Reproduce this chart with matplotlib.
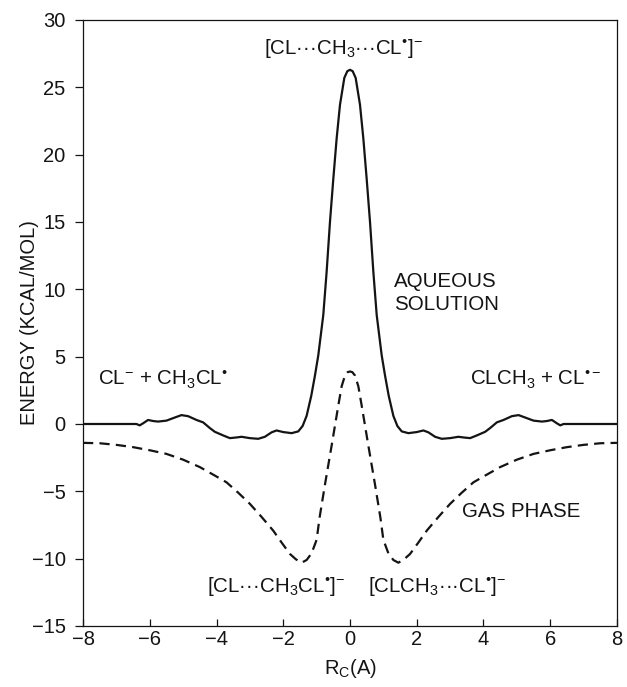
import matplotlib
matplotlib.use("Agg")
import matplotlib.pyplot as plt

plt.rcParams["font.family"] = ["Liberation Sans", "DejaVu Sans"]
plt.rcParams["mathtext.fontset"] = "custom"
plt.rcParams["mathtext.rm"] = "Liberation Sans"
plt.rcParams["mathtext.it"] = "Liberation Sans:italic"
plt.rcParams["mathtext.bf"] = "Liberation Sans:bold"

# Aqueous-solution free-energy profile (kcal/mol) vs reaction coordinate R_C
aq_x = [-8.0, -6.4, -6.3, -6.2, -6.05, -5.9, -5.75, -5.5, -5.25, -5.05, -4.85,
        -4.6, -4.4, -4.2, -4.05, -3.8, -3.6, -3.4, -3.25, -3.0, -2.75, -2.55,
        -2.35, -2.2, -2.0, -1.75, -1.55, -1.42, -1.3, -1.16, -1.05, -0.95,
        -0.8, -0.7, -0.6, -0.5, -0.4, -0.3, -0.17, -0.08, 0.0,
        0.08, 0.17, 0.3, 0.4, 0.5, 0.6, 0.7, 0.8, 0.95, 1.05, 1.16, 1.3,
        1.42, 1.55, 1.75, 2.0, 2.2, 2.35, 2.55, 2.75, 3.0, 3.25, 3.4, 3.6,
        3.8, 4.05, 4.2, 4.4, 4.6, 4.85, 5.05, 5.25, 5.5, 5.75, 5.9, 6.05,
        6.2, 6.3, 6.4, 8.0]
aq_e = [0.0, 0.0, -0.1, 0.05, 0.3, 0.22, 0.18, 0.25, 0.48, 0.66, 0.58,
        0.3, 0.12, -0.3, -0.58, -0.85, -1.05, -1.0, -0.95, -1.05, -1.1, -0.95,
        -0.62, -0.48, -0.6, -0.68, -0.55, -0.15, 0.6, 2.1, 3.6, 5.1,
        8.1, 11.3, 15.0, 18.2, 21.2, 23.7, 25.7, 26.2, 26.3,
        26.2, 25.7, 23.7, 21.2, 18.2, 15.0, 11.3, 8.1, 5.1, 3.6, 2.1, 0.6,
        -0.15, -0.55, -0.68, -0.6, -0.48, -0.62, -0.95, -1.1, -1.05, -0.95, -1.0, -1.05,
        -0.85, -0.58, -0.3, 0.12, 0.3, 0.58, 0.66, 0.48, 0.25, 0.18, 0.22, 0.3,
        0.05, -0.1, 0.0, 0.0]

# Gas-phase energy profile
gas_x = [-8.0, -7.5, -7.0, -6.5, -6.0, -5.5, -5.0, -4.5, -4.0, -3.7, -3.35,
         -3.0, -2.65, -2.3, -2.05, -1.8, -1.62, -1.45, -1.3, -1.15, -1.0,
         -0.91, -0.75, -0.55, -0.35, -0.25, -0.15, -0.07, 0.0,
         0.07, 0.15, 0.25, 0.35, 0.55, 0.75, 0.91, 1.0, 1.15, 1.3, 1.45, 1.62, 1.8,
         2.05, 2.3, 2.65, 3.0, 3.35, 3.7, 4.0, 4.5, 5.0, 5.5, 6.0, 6.5, 7.0,
         7.5, 8.0]
gas_e = [-1.4, -1.43, -1.55, -1.72, -1.95, -2.22, -2.65, -3.2, -3.9, -4.33, -5.1,
         -5.93, -6.9, -7.92, -8.8, -9.65, -10.05, -10.3, -10.1, -9.6, -8.6,
         -6.93, -4.5, -1.6, 1.37, 2.8, 3.6, 3.85, 3.9,
         3.85, 3.6, 2.8, 1.37, -1.6, -4.5, -6.93, -8.6, -9.6, -10.1, -10.3, -10.05, -9.65,
         -8.8, -7.92, -6.9, -5.93, -5.1, -4.33, -3.9, -3.2, -2.65, -2.22, -1.95, -1.72, -1.55,
         -1.43, -1.4]

x_ticks = [-8, -6, -4, -2, 0, 2, 4, 6, 8]
x_tick_labels = ["\u22128", "\u22126", "\u22124", "\u22122", "0", "2", "4", "6", "8"]
y_ticks = [-15, -10, -5, 0, 5, 10, 15, 20, 25, 30]
y_tick_labels = ["\u221215", "\u221210", "\u22125", "0", "5", "10", "15", "20", "25", "30"]

ink = "#141414"
fs = 14.8

fig = plt.figure(figsize=(6.27, 6.87), dpi=100)
ax = fig.add_axes([0.1324, 0.0888, 0.8516, 0.8821])

ax.plot(aq_x, aq_e, color=ink, lw=1.6, solid_joinstyle="round")
ax.plot(gas_x, gas_e, color=ink, lw=1.6, dashes=[4.6, 2.8])

ax.set_xlim(-8, 8)
ax.set_ylim(-15, 30)
ax.set_xticks(x_ticks)
ax.set_xticklabels(x_tick_labels)
ax.set_yticks(y_ticks)
ax.set_yticklabels(y_tick_labels)
ax.tick_params(axis="x", direction="in", length=5.4, width=0.9, labelsize=14.5,
               pad=3, colors=ink)
ax.tick_params(axis="y", direction="out", length=5.6, width=0.9, labelsize=14.5,
               pad=7, colors=ink)
for s in ax.spines.values():
    s.set_linewidth(0.9)
    s.set_color(ink)

ax.set_xlabel(r"R$\mathregular{_C}$(A)", fontsize=14.5, labelpad=6, color=ink)
ax.set_ylabel("ENERGY (KCAL/MOL)", fontsize=14.5, color=ink)
ax.yaxis.set_label_coords(-0.082, 0.5)

ax.text(-0.19, 27.45, r"[CL···CH$\mathregular{_3}$···CL$\mathregular{^{•}}$]$\mathregular{^{-}}$",
        ha="center", va="baseline", fontsize=fs, color=ink)
ax.text(1.32, 8.49, "AQUEOUS\nSOLUTION", ha="left", va="baseline", fontsize=fs,
        color=ink, linespacing=1.27)
ax.text(-7.55, 2.95, r"CL$\mathregular{^{-}}$ + CH$\mathregular{_3}$CL$\mathregular{^{•}}$",
        ha="left", va="baseline", fontsize=fs, color=ink)
ax.text(3.6, 2.9, r"CLCH$\mathregular{_3}$ + CL$\mathregular{^{•-}}$",
        ha="left", va="baseline", fontsize=fs, color=ink)
ax.text(3.36, -6.94, "GAS PHASE", ha="left", va="baseline", fontsize=fs, color=ink)
ax.text(-2.2, -12.45, r"[CL···CH$\mathregular{_3}$CL$\mathregular{^{•}}$]$\mathregular{^{-}}$",
        ha="center", va="baseline", fontsize=fs, color=ink)
ax.text(2.62, -12.45, r"[CLCH$\mathregular{_3}$···CL$\mathregular{^{•}}$]$\mathregular{^{-}}$",
        ha="center", va="baseline", fontsize=fs, color=ink)

fig.savefig("out.png", dpi=100)
